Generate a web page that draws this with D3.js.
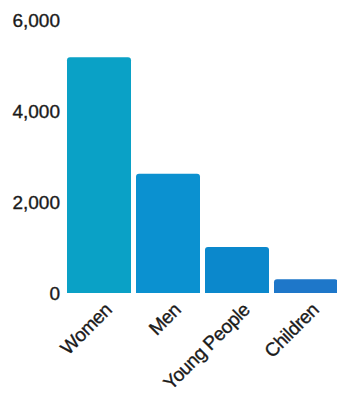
<!DOCTYPE html>
<html><head><meta charset="utf-8">
<script src="https://cdn.jsdelivr.net/npm/d3@7"></script>
<style>body{margin:0;background:#fff}svg{display:block}</style>
</head><body><svg id="c" width="337" height="395"></svg>
<script>
const categories = ["Women", "Men", "Young People", "Children"];
const values = [5180, 2620, 1010, 300];
const colors = ["#0aa1c6", "#0b91d0", "#0b88cc", "#1e77c9"];
const yTicks = [0, 2000, 4000, 6000];

const svg = d3.select("#c");
const x = d3.scaleBand().domain(categories).range([67, 338]).paddingInner(0.0725).paddingOuter(0);
const y = d3.scaleLinear().domain([0, 6000]).range([293, 20]);
const font = "'Liberation Sans', Arial, Helvetica, sans-serif";

function topRounded(x0, y0, w, h, r) {
  r = Math.min(r, h, w / 2);
  return `M${x0},${y0 + h}V${y0 + r}Q${x0},${y0} ${x0 + r},${y0}H${x0 + w - r}Q${x0 + w},${y0} ${x0 + w},${y0 + r}V${y0 + h}Z`;
}

svg.selectAll("path.bar").data(categories).join("path")
  .attr("class", "bar")
  .attr("fill", (d, i) => colors[i])
  .attr("d", (d, i) => topRounded(x(d), y(values[i]), x.bandwidth(), y(0) - y(values[i]), 3));

const yAxis = d3.axisLeft(y).tickValues(yTicks).tickFormat(d3.format(",")).tickSize(0).tickPadding(0);
const gy = svg.append("g").attr("transform", "translate(60,0)").call(yAxis);
gy.select(".domain").remove();
gy.selectAll("text").attr("font-family", font).attr("font-size", 19).attr("fill", "#1a1a1a")
  .attr("stroke", "#1a1a1a").attr("stroke-width", 0.35).attr("dy", "0.35em");

const xAxis = d3.axisBottom(x).tickSize(0).tickPadding(0);
const gx = svg.append("g").attr("transform", "translate(0,293)").call(xAxis);
gx.select(".domain").remove();
gx.selectAll("text")
  .attr("font-family", font).attr("font-size", 19).attr("fill", "#1a1a1a")
  .attr("stroke", "#1a1a1a").attr("stroke-width", 0.35).attr("letter-spacing", -0.4)
  .attr("text-anchor", "end").attr("dy", null).attr("y", 0)
  .attr("transform", "translate(14,18) rotate(-45)");
</script></body></html>
